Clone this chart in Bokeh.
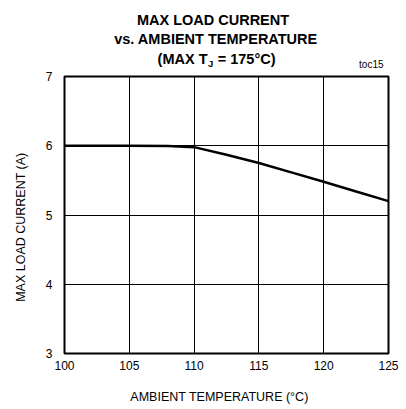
from bokeh.plotting import figure
from bokeh.models import Range1d, FixedTicker
from bokeh.layouts import column
from bokeh.core.properties import value
from bokeh.embed import file_html
from bokeh.resources import INLINE

# data
temp_c = [100, 105, 108, 110, 112.5, 115, 117.5, 120, 122.5, 125]
max_current_a = [6.0, 6.0, 5.995, 5.98, 5.87, 5.75, 5.615, 5.48, 5.34, 5.20]
x_ticks = [100, 105, 110, 115, 120, 125]
y_ticks = [3, 4, 5, 6, 7]
title_lines = ["MAX LOAD CURRENT", "vs. AMBIENT TEMPERATURE"]
title_line3 = ["(MAX T", "J", "= 175°C)"]
x_label = "AMBIENT TEMPERATURE (°C)"
y_label = "MAX LOAD CURRENT (A)"
tag = "toc15"

FONT = "Liberation Sans"
NB = "\u00a0"

W = 404
BL, BR = 64, 16          # left / right borders shared by both panels
TH = 70                  # height of the title block

# ---- title block (coordinates = page pixels, y downwards) ----
t = figure(width=W, height=TH, output_backend="svg", toolbar_location=None,
           title=None, x_range=Range1d(BL, W - BR), y_range=Range1d(TH, 0),
           x_axis_type=None, y_axis_type=None,
           min_border_left=BL, min_border_right=BR, min_border_top=0, min_border_bottom=0)
t.outline_line_color = None
t.background_fill_color = "white"
t.border_fill_color = "white"

t.text(x=[212.5, 215.5], y=[19.2, 38.6], text=title_lines,
       text_font=value(FONT), text_font_size="14.5px", text_font_style="bold",
       text_align="center", text_baseline="alphabetic", text_color="black")
t.text(x=[207], y=[58], text=[title_line3[0]],
       text_font=value(FONT), text_font_size="14.5px", text_font_style="bold",
       text_align="right", text_baseline="alphabetic", text_color="black")
t.text(x=[207.5], y=[62.5], text=[title_line3[1]],
       text_font=value(FONT), text_font_size="9.5px", text_font_style="bold",
       text_align="left", text_baseline="alphabetic", text_color="black")
t.text(x=[217.2], y=[58], text=[title_line3[2]],
       text_font=value(FONT), text_font_size="14.5px", text_font_style="bold",
       text_align="left", text_baseline="alphabetic", text_color="black")
t.text(x=[383], y=[64], text=[tag],
       text_font=value(FONT), text_font_size="10px",
       text_align="right", text_baseline="alphabetic", text_color="black")

# ---- main chart ----
p = figure(width=W, height=338, output_backend="svg", toolbar_location=None,
           x_range=Range1d(100, 125), y_range=Range1d(3, 7),
           min_border_left=BL, min_border_right=BR, min_border_top=6, min_border_bottom=55)
p.background_fill_color = "white"
p.border_fill_color = "white"
p.outline_line_color = "black"
p.outline_line_width = 2

for ax in (p.xaxis[0], p.yaxis[0]):
    ax.axis_line_color = None
    ax.major_tick_line_color = None
    ax.minor_tick_line_color = None
    ax.major_tick_out = 0
    ax.major_tick_in = 0
    ax.minor_tick_out = 0
    ax.minor_tick_in = 0
    ax.major_label_text_font = FONT
    ax.major_label_text_font_size = "12px"
    ax.major_label_text_color = "black"
    ax.axis_label_text_font = FONT
    ax.axis_label_text_font_size = "12.5px"
    ax.axis_label_text_font_style = "normal"
    ax.axis_label_text_color = "black"

p.xaxis[0].ticker = FixedTicker(ticks=x_ticks)
p.yaxis[0].ticker = FixedTicker(ticks=y_ticks)
p.xaxis[0].major_label_standoff = 7
p.yaxis[0].major_label_standoff = 12
p.xaxis[0].axis_label = x_label + NB * 4
p.yaxis[0].axis_label = y_label + NB * 7
p.xaxis[0].axis_label_standoff = 17
p.yaxis[0].axis_label_standoff = 15

p.xgrid[0].ticker = FixedTicker(ticks=x_ticks)
p.ygrid[0].ticker = FixedTicker(ticks=y_ticks)
for g in (p.xgrid[0], p.ygrid[0]):
    g.grid_line_color = "black"
    g.grid_line_width = 1
    g.grid_line_alpha = 1

p.line(temp_c, max_current_a, line_color="black", line_width=2.5)

layout = column(t, p, spacing=0)
open("out.html", "w").write(file_html(layout, INLINE))
